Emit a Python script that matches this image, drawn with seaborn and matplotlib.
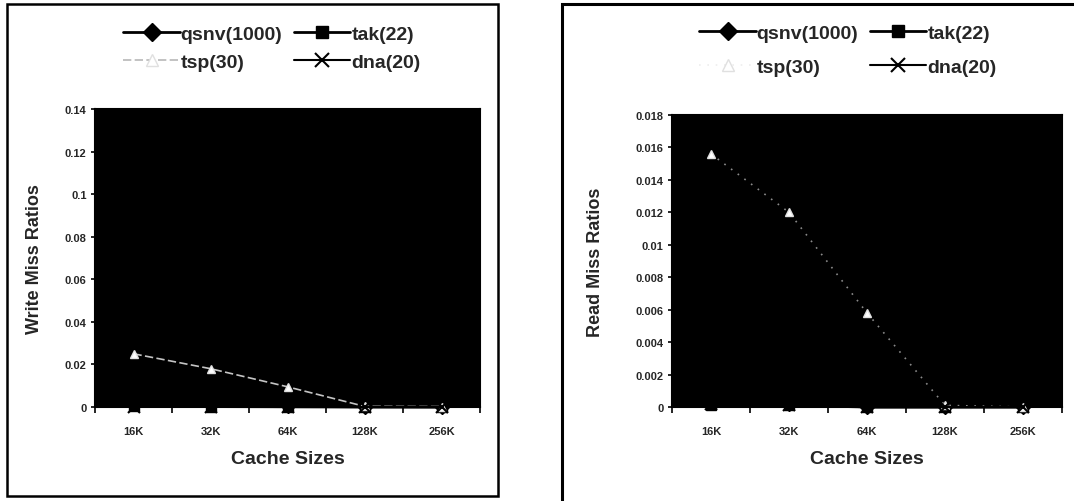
import matplotlib
matplotlib.use("Agg")
import matplotlib.pyplot as plt
from matplotlib.lines import Line2D
from matplotlib.patches import Rectangle
import seaborn as sns
import pandas as pd

# ---- data ----
cache_sizes = ["16K", "32K", "64K", "128K", "256K"]
series_names = ["qsnv(1000)", "tak(22)", "tsp(30)", "dna(20)"]

write_qsnv = [0.0015, 0.0008, 0.0003, 0.0001, 0.0]
write_tak = [0.0005, 0.0002, 0.0001, 0.0, 0.0]
write_tsp = [0.025, 0.018, 0.0095, 0.0003, 0.0002]
write_dna = [0.0002, 0.0001, 0.0, 0.0, 0.0]

read_qsnv = [0.0003, 0.0002, 0.0, 0.0, 0.0]
read_tak = [0.0001, 0.0001, 0.0, 0.0, 0.0]
read_tsp = [0.0156, 0.012, 0.0058, 0.0001, 0.0]
read_dna = [0.0002, 0.0001, 0.0, 0.0, 0.0]

write_yticks = [0, 0.02, 0.04, 0.06, 0.08, 0.1, 0.12, 0.14]
write_ylabels = ["0", "0.02", "0.04", "0.06", "0.08", "0.1", "0.12", "0.14"]
read_yticks = [0, 0.002, 0.004, 0.006, 0.008, 0.01, 0.012, 0.014, 0.016, 0.018]
read_ylabels = ["0", "0.002", "0.004", "0.006", "0.008", "0.01", "0.012",
                "0.014", "0.016", "0.018"]

# ---- style ----
sns.set_theme(style="white")
plt.rcParams["font.family"] = ["Liberation Sans", "DejaVu Sans"]
plt.rcParams["font.weight"] = "bold"

styles = {
    "qsnv(1000)": dict(color="black", marker="D", ms=7, ls="-", lw=2.0, mfc="black", mec="black"),
    "tak(22)": dict(color="black", marker="s", ms=7, ls="-", lw=2.0, mfc="black", mec="black"),
    "tsp(30)": dict(color="#c4c4c4", marker="^", ms=6, ls=(0, (5, 2)), lw=1.2, mfc="white", mec="#e0e0e0"),
    "dna(20)": dict(color="black", marker="x", ms=8, ls="-", lw=1.5, mfc="black", mec="black", mew=1.5),
}

fig = plt.figure(figsize=(10.74, 5.02), dpi=100)
W, H = 1074.0, 502.0


def frac_rect(x0, y0, x1, y1):
    return [x0 / W, 1 - y1 / H, (x1 - x0) / W, (y1 - y0) / H]


def draw_panel(rect, data, yticks, ylabels, ymax, ylabel, tsp_ls, tsp_color):
    ax = fig.add_axes(frac_rect(*rect))
    ax.set_facecolor("black")
    rows = []
    for name, vals in zip(series_names, data):
        for c, v in zip(cache_sizes, vals):
            rows.append({"Cache": c, "Ratio": v, "Series": name})
    df = pd.DataFrame(rows)
    for name in series_names:
        st = dict(styles[name])
        if name == "tsp(30)":
            st["ls"] = tsp_ls
            st["color"] = tsp_color
        sub = df[df["Series"] == name]
        sns.lineplot(data=sub, x="Cache", y="Ratio", ax=ax, sort=False,
                     color=st["color"], linestyle=st["ls"], linewidth=st["lw"],
                     marker=st["marker"], markersize=st["ms"],
                     markerfacecolor=st["mfc"], markeredgecolor=st["mec"],
                     markeredgewidth=st.get("mew", 1.0), clip_on=False,
                     legend=False, zorder=3)
    ax.set_xlim(-0.5, len(cache_sizes) - 0.5)
    ax.set_ylim(0, ymax)
    ax.set_yticks(yticks)
    ax.set_yticklabels(ylabels, fontsize=8, fontweight="bold")
    ax.set_xticks(range(len(cache_sizes)))
    ax.set_xticklabels(cache_sizes, fontsize=8, fontweight="bold")
    ax.set_xticks([i - 0.5 for i in range(len(cache_sizes) + 1)], minor=True)
    ax.tick_params(axis="x", which="major", length=0, pad=14)
    ax.tick_params(axis="x", which="minor", length=4, width=1.2, color="black", direction="out", bottom=True)
    ax.tick_params(axis="y", which="major", length=3, width=1.2, color="black", direction="out", left=True, pad=3)
    for s in ax.spines.values():
        s.set_color("black")
        s.set_linewidth(1.5)
    ax.set_xlabel("Cache Sizes", fontsize=14, fontweight="bold", labelpad=10)
    ax.set_ylabel(ylabel, fontsize=13, fontweight="bold")
    return ax


ax1 = draw_panel((95, 110, 480, 408), [write_qsnv, write_tak, write_tsp, write_dna],
                 write_yticks, write_ylabels, 0.14, "Write Miss Ratios", (0, (5, 2)), "#c4c4c4")
ax1.yaxis.set_label_coords(-0.135, 0.5)
ax2 = draw_panel((672, 116, 1062, 408), [read_qsnv, read_tak, read_tsp, read_dna],
                 read_yticks, read_ylabels, 0.018, "Read Miss Ratios", (0, (1, 4)), "#8a8a8a")
ax2.yaxis.set_label_coords(-0.175, 0.5)


def legend_handles(tsp_color, tsp_ls):
    hs = []
    for name in series_names:
        st = dict(styles[name])
        if name == "tsp(30)":
            st["color"] = tsp_color
            st["ls"] = tsp_ls
        hs.append(Line2D([], [], color=st["color"], linestyle=st["ls"], linewidth=st["lw"],
                         marker=st["marker"], markersize=st["ms"] + 2,
                         markerfacecolor=st["mfc"], markeredgecolor=st["mec"],
                         markeredgewidth=st.get("mew", 1.0)))
    return hs


order = [0, 2, 1, 3]
for cx, cy, lsp, tc, tl in [(272 / W, 1 - 49 / H, 0.55, "#b8b8b8", (0, (5, 2))),
                            (848 / W, 1 - 51 / H, 0.85, "#eeeeee", (0, (1, 4)))]:
    hs = legend_handles(tc, tl)
    fig.legend([hs[i] for i in order], [series_names[i] for i in order],
               loc="center", bbox_to_anchor=(cx, cy), ncol=2, frameon=False,
               prop={"family": "Liberation Sans", "weight": "bold", "size": 14},
               handlelength=2.9, handletextpad=0.05, columnspacing=0.6,
               labelspacing=lsp, borderpad=0)

# panel borders
fig.patches.append(Rectangle((7 / W, 1 - 497 / H), (498 - 7) / W, (497 - 5) / H,
                             transform=fig.transFigure, fill=False, ec="black", lw=1.8))
fig.patches.append(Rectangle((562 / W, -0.05), (1100 - 562) / W, 1.05 - 5 / H,
                             transform=fig.transFigure, fill=False, ec="black", lw=2.2,
                             clip_on=False))

fig.savefig("out.png", dpi=100, facecolor="white")
